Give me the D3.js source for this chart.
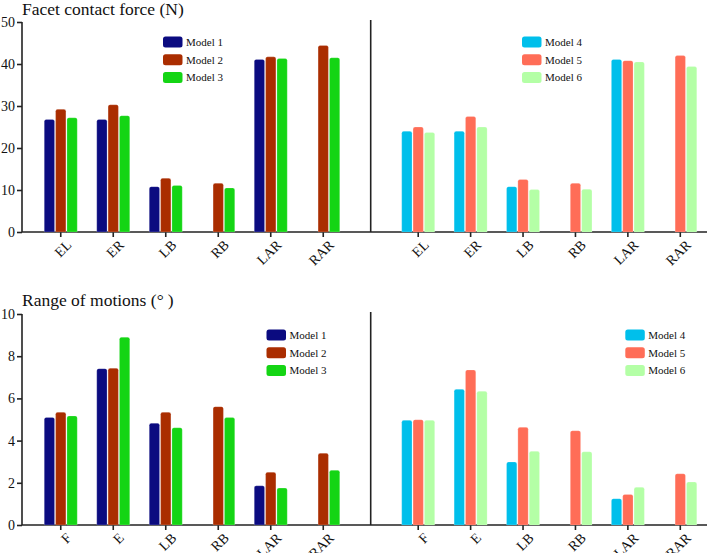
<!DOCTYPE html>
<html><head><meta charset="utf-8">
<script src="https://cdn.jsdelivr.net/npm/d3@7"></script>
<style>body{margin:0;background:#fff}svg{display:block}text{font-family:"Liberation Serif","Times New Roman",serif;fill:#111}</style>
</head><body>
<svg id="c" width="708" height="553"></svg>
<script>
const forceCats = ["EL","ER","LB","RB","LAR","RAR"];
const romCats = ["F","E","LB","RB","LAR","RAR"];
const leftModels = ["Model 1","Model 2","Model 3"];
const rightModels = ["Model 4","Model 5","Model 6"];
const leftColors = ["#0B0B80","#AA2D00","#14D514"];
const rightColors = ["#00BFEB","#FF6D57","#B4FFA6"];
// Facet contact force (N)
const force1 = [26.8, 26.8, 10.8, null, 41.1, null];
const force2 = [29.2, 30.3, 12.8, 11.6, 41.7, 44.4];
const force3 = [27.2, 27.7, 11.1, 10.5, 41.3, 41.5];
const force4 = [24.0, 24.0, 10.8, null, 41.1, null];
const force5 = [25.0, 27.5, 12.5, 11.6, 40.8, 42.0];
const force6 = [23.7, 25.0, 10.1, 10.2, 40.5, 39.4];
// Range of motions (°)
const rom1 = [5.10, 7.41, 4.82, null, 1.86, null];
const rom2 = [5.34, 7.43, 5.34, 5.61, 2.50, 3.40];
const rom3 = [5.17, 8.90, 4.61, 5.09, 1.75, 2.59];
const rom4 = [4.96, 6.43, 2.99, null, 1.25, null];
const rom5 = [4.99, 7.35, 4.63, 4.47, 1.45, 2.43];
const rom6 = [4.96, 6.34, 3.49, 3.47, 1.79, 2.04];
const forceTicks = [0,10,20,30,40,50];
const romTicks = [0,2,4,6,8,10];

const SERIF = "Liberation Serif, Times New Roman, serif";
const svg = d3.select("#c");
const axisColor = "#222";

function roundTop(x, y, w, h, r){
  r = Math.min(r, h, w/2);
  return `M${x},${y+h}V${y+r}Q${x},${y} ${x+r},${y}H${x+w-r}Q${x+w},${y} ${x+w},${y+r}V${y+h}Z`;
}

function panel(opts){
  const {top, bottom, domain, ticks, title, titleY, cats, leftSeries, rightSeries, legL, legR} = opts;
  const g = svg.append("g");
  const y = d3.scaleLinear().domain(domain).range([bottom, top]);
  // title
  const t = g.append("text").attr("x", 22).attr("y", titleY).attr("font-family",SERIF).style("font-size","17.5px");
  if (title.endsWith("(°)")) {
    t.append("tspan").text(title.slice(0,-1));
    t.append("tspan").attr("dx",4).text(")");
  } else t.text(title);
  // y axis
  const ya = g.append("g").attr("transform","translate(22,0)").call(d3.axisLeft(y).tickValues(ticks).tickSize(5).tickPadding(2).tickFormat(d3.format("d")));
  ya.attr("font-family",SERIF);
  ya.select(".domain").attr("stroke",axisColor).attr("stroke-width",1.6).attr("d",`M0,${y(domain[1])}V${bottom}`);
  ya.selectAll(".tick line").attr("stroke",axisColor).attr("stroke-width",1.6);
  ya.selectAll(".tick text").style("font-size","14px").attr("fill","#111");
  // right divider
  g.append("line").attr("x1",370.7).attr("x2",370.7).attr("y1",y(domain[1])-2).attr("y2",bottom).attr("stroke",axisColor).attr("stroke-width",1.6);
  // x baseline
  g.append("line").attr("x1",22).attr("x2",707).attr("y1",bottom).attr("y2",bottom).attr("stroke",axisColor).attr("stroke-width",1.6);

  const sides = [
    {series:leftSeries, models:leftModels, colors:leftColors, range:[34.5,349.5], leg:legL},
    {series:rightSeries, models:rightModels, colors:rightColors, range:[392,706.5], leg:legR}
  ];
  sides.forEach(s=>{
    const x = d3.scaleBand().domain(cats).range(s.range).padding(0);
    const xi = d3.scaleBand().domain(s.models).range([-16.5,16.5]).paddingInner(0.09);
    const xa = g.append("g").attr("transform",`translate(0,${bottom})`).call(d3.axisBottom(x).tickSize(5).tickPadding(3));
    xa.attr("font-family",SERIF);
    xa.select(".domain").remove();
    xa.selectAll(".tick line").attr("stroke",axisColor).attr("stroke-width",1.6);
    xa.selectAll(".tick text").style("font-size","14px").attr("fill","#111")
      .attr("text-anchor","end").attr("y",0).attr("dy","0").attr("transform","translate(11.5,13.8) rotate(-45)");
    s.models.forEach((m,mi)=>{
      const vals = s.series[mi];
      g.append("g").selectAll("path").data(cats.map((c,i)=>({c,v:vals[i]})).filter(d=>d.v!=null))
        .join("path")
        .attr("d",d=>{const x0=x(d.c)+x.bandwidth()/2+xi(m); const y0=y(d.v); return roundTop(x0,y0,xi.bandwidth(),bottom-y0,2);})
        .attr("fill",s.colors[mi]).attr("stroke","#fff").attr("stroke-opacity",0.35).attr("stroke-width",0.6);
    });
    // legend
    const lg = g.append("g");
    s.models.forEach((m,mi)=>{
      const cy = s.leg[1] + mi*17.7;
      lg.append("rect").attr("x",s.leg[0]).attr("y",cy-5.5).attr("width",19.5).attr("height",11).attr("rx",2.5).attr("fill",s.colors[mi]);
      lg.append("text").attr("x",s.leg[0]+23).attr("y",cy+3.8).attr("font-family",SERIF).style("font-size","11px").attr("fill","#333").text(m);
    });
  });
}

panel({top:22, bottom:232, domain:[0,50], ticks:forceTicks, title:"Facet contact force (N)", titleY:14.5,
  cats:forceCats, leftSeries:[force1,force2,force3], rightSeries:[force4,force5,force6],
  legL:[163,42], legR:[522,42]});
panel({top:314, bottom:525, domain:[0,10], ticks:romTicks, title:"Range of motions (°)", titleY:306,
  cats:romCats, leftSeries:[rom1,rom2,rom3], rightSeries:[rom4,rom5,rom6],
  legL:[266.5,335], legR:[625.3,335]});
</script>
</body></html>
